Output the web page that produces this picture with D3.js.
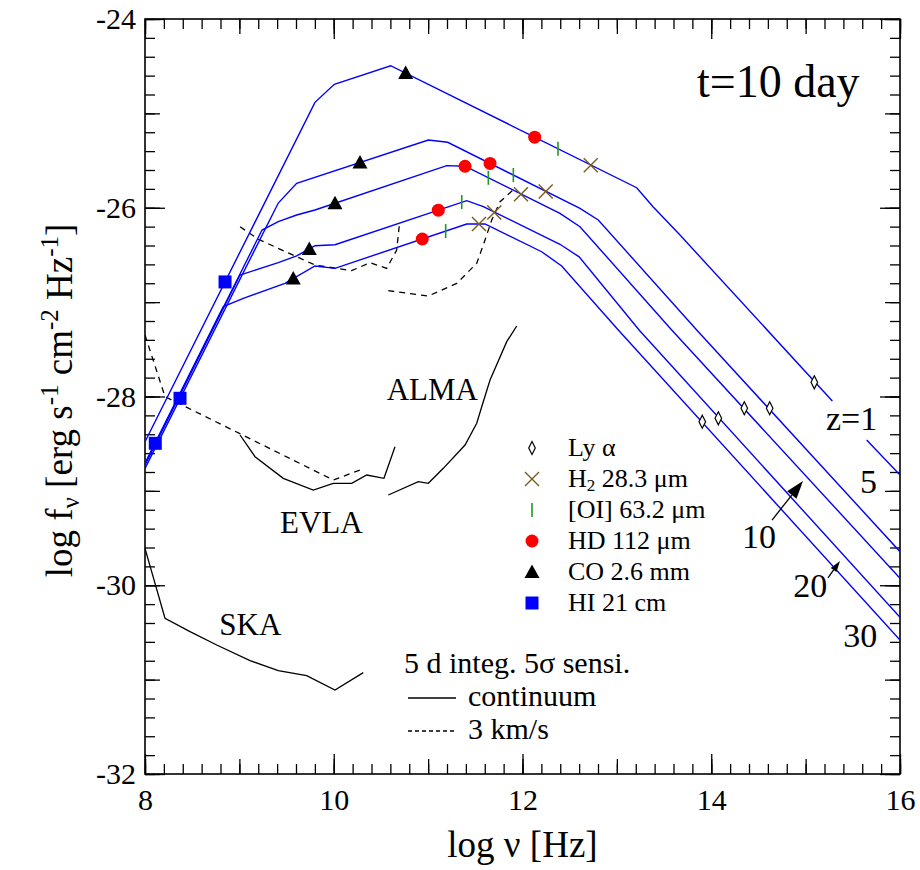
<!DOCTYPE html>
<html><head><meta charset="utf-8">
<script src="https://cdn.jsdelivr.net/npm/d3@7"></script>
<style>
body{margin:0;background:#fff}
text{font-family:"Liberation Serif","Times New Roman",serif;fill:#000}
</style>
</head><body>
<svg id="chart" width="920" height="870"></svg>
<script>
// ---------------- DATA (log nu [Hz], log f_nu) ----------------
const redshiftLabels = ["z=1","5","10","20","30"];
const sedZ1  = [[8.000,-28.479],[9.801,-24.883],[10.006,-24.692],[10.603,-24.495],[13.210,-25.788],[13.383,-25.989],[13.669,-26.289],[15.283,-28.048],null,[15.647,-28.461],[16.000,-28.832]];
const sedZ5  = [[8.000,-28.761],[9.412,-25.950],[9.607,-25.741],[11.002,-25.282],[11.207,-25.306],[12.609,-26.006],[12.803,-26.130],[13.846,-27.295],[16.000,-29.644]];
const sedZ10 = [[8.000,-28.714],[9.240,-26.236],[9.412,-26.148],[9.607,-26.077],[9.801,-26.024],[11.197,-25.554],[11.391,-25.560],[12.397,-26.059],[12.609,-26.201],[13.581,-27.295],[16.000,-29.926]];
const sedZ20 = [[8.000,-28.726],[9.007,-26.713],[9.412,-26.582],[9.607,-26.511],[9.801,-26.402],[10.013,-26.392],[11.409,-25.925],[11.585,-25.989],[12.397,-26.387],[12.600,-26.520],[13.240,-27.300],[16.000,-30.340]];
const sedZ30 = [[8.000,-28.708],[8.830,-27.048],[9.042,-26.960],[9.483,-26.801],[9.801,-26.617],[10.013,-26.642],[11.409,-26.172],[11.603,-26.172],[12.203,-26.466],[12.415,-26.617],[13.015,-27.295],[16.000,-30.580]];

// line markers (z = 1,5,10,20,30)
const lyaPts = [[15.092,-27.850],[14.619,-28.125],[14.350,-28.125],[14.075,-28.231],[13.905,-28.267]];
const h2Pts  = [[12.723,-25.550],[12.246,-25.828],[11.984,-25.856],[11.701,-26.050],[11.539,-26.172]];
const oiPts  = [[12.376,-25.376],[11.903,-25.653],[11.638,-25.683],[11.356,-25.940],[11.186,-26.247]];
const hdPts  = [[12.129,-25.252],[11.656,-25.530],[11.391,-25.560],[11.108,-26.026],[10.938,-26.331]];
const coPts  = [[10.762,-24.572],[10.278,-25.521],[10.013,-25.953],[9.741,-26.436],[9.571,-26.750]];
const hiPts  = [[8.848,-26.786],[8.371,-28.019],[8.109,-28.496]];

// sensitivities (5 d integration, 5 sigma)
const skaCont  = [[8.000,-29.609],[8.212,-30.350],[8.477,-30.492],[8.760,-30.633],[9.113,-30.799],[9.412,-30.905],[9.713,-30.958],[10.013,-31.110],[10.313,-30.926]];
const evlaCont = [[9.007,-28.408],[9.166,-28.638],[9.465,-28.867],[9.783,-28.991],[9.995,-28.920],[10.190,-28.920],[10.349,-28.832],[10.532,-28.867],[10.649,-28.532]];
const almaCont = [[10.578,-29.044],[10.896,-28.903],[11.002,-28.920],[11.161,-28.761],[11.391,-28.514],[11.515,-28.284],[11.568,-28.108],[11.656,-27.825],[11.833,-27.419],[11.939,-27.253]];
const skaLine  = [[8.000,-27.348],[8.212,-28.002],[8.371,-28.079],[9.995,-28.885],[10.278,-28.779]];
const evlaLine = [[9.007,-26.201],[9.201,-26.334],[9.801,-26.607],[10.190,-26.667],[10.384,-26.582],[10.561,-26.642],[10.667,-26.448],[10.695,-26.183]];
const almaLine = [[10.578,-26.879],[11.002,-26.935],[11.303,-26.801],[11.515,-26.589],[11.603,-26.342],[11.674,-26.130],[11.762,-25.936],[11.921,-25.794]];

const xTickLabels = [8,10,12,14,16];
const yTickLabels = [-24,-26,-28,-30,-32];
const legendLabels = ["Ly α","H2 28.3 μm","[OI] 63.2 μm","HD 112 μm","CO 2.6 mm","HI 21 cm"];

// ---------------- LAYOUT ----------------
const svg = d3.select("#chart");
const X0=145, X1=900, Y0=19, Y1=774;
const x = d3.scaleLinear().domain([8,16]).range([X0,X1]);
const y = d3.scaleLinear().domain([-32,-24]).range([Y1,Y0]);
const FONT = '"Liberation Serif","Times New Roman",serif';

const minorX = d3.range(0,41).map(i=>8+i*0.2);
const majorX = d3.range(8,17);
const minorY = d3.range(0,41).map(i=>-32+i*0.2);
const majorY = d3.range(-32,-23);

function drawAxis(gen, tr, vals, size, fmt, pad){
  const g = svg.append("g").attr("transform",tr)
    .call(gen.tickValues(vals).tickSizeInner(-size).tickSizeOuter(0).tickPadding(pad||3).tickFormat(fmt||""));
  g.select(".domain").remove();
  g.selectAll("line").attr("stroke","#000").attr("stroke-width",1.3);
  g.attr("font-family",FONT).attr("font-size",30);
  return g;
}
[[minorX,10],[majorX,15],[xTickLabels,20]].forEach(([v,s])=>{
  drawAxis(d3.axisBottom(x),`translate(0,${Y1})`,v,s);
  drawAxis(d3.axisTop(x),`translate(0,${Y0})`,v,s);
});
[[minorY,10],[majorY,15],[yTickLabels,20]].forEach(([v,s])=>{
  drawAxis(d3.axisLeft(y),`translate(${X0},0)`,v,s);
  drawAxis(d3.axisRight(y),`translate(${X1},0)`,v,s);
});
const xl = drawAxis(d3.axisBottom(x),`translate(0,${Y1})`,xTickLabels,0,d=>String(d),15);
xl.selectAll("line").remove();
xl.selectAll("text").attr("fill","#000");
const yl = drawAxis(d3.axisLeft(y),`translate(${X0},0)`,yTickLabels,0,d=>String(d),9);
yl.selectAll("line").remove();
yl.selectAll("text").attr("fill","#000");

svg.append("rect").attr("x",X0).attr("y",Y0).attr("width",X1-X0).attr("height",Y1-Y0)
  .attr("fill","none").attr("stroke","#000").attr("stroke-width",1.6);

// axis titles
svg.append("text").attr("x",(X0+X1)/2).attr("y",857).attr("text-anchor","middle")
  .attr("font-size",37).text("log ν [Hz]");
const yt = svg.append("text").attr("transform",`translate(72,${(Y0+Y1)/2+4}) rotate(-90)`)
  .attr("text-anchor","middle").attr("font-size",37);
yt.append("tspan").text("log f");
yt.append("tspan").attr("dy",7).attr("font-size",25).text("ν");
yt.append("tspan").attr("dy",-7).text(" [erg s");
yt.append("tspan").attr("dy",-14).attr("font-size",25).text("-1");
yt.append("tspan").attr("dy",14).text(" cm");
yt.append("tspan").attr("dy",-14).attr("font-size",25).text("-2");
yt.append("tspan").attr("dy",14).text(" Hz");
yt.append("tspan").attr("dy",-14).attr("font-size",25).text("-1");
yt.append("tspan").attr("dy",14).text("]");

svg.append("clipPath").attr("id","clip").append("rect")
  .attr("x",X0).attr("y",Y0).attr("width",X1-X0).attr("height",Y1-Y0);
const plot = svg.append("g").attr("clip-path","url(#clip)");

const line = d3.line().defined(d=>d!==null).x(d=>x(d[0])).y(d=>y(d[1]));

[skaCont,evlaCont,almaCont].forEach(s=>{
  plot.append("path").attr("d",line(s)).attr("fill","none").attr("stroke","#000").attr("stroke-width",1.3);
});
[skaLine,evlaLine,almaLine].forEach(s=>{
  plot.append("path").attr("d",line(s)).attr("fill","none").attr("stroke","#000").attr("stroke-width",1.3)
    .attr("stroke-dasharray","6,5");
});

[sedZ1,sedZ5,sedZ10,sedZ20,sedZ30].forEach(s=>{
  plot.append("path").attr("d",line(s)).attr("fill","none").attr("stroke","#0000ff").attr("stroke-width",1.4);
});

const shapes = {
  lya: g=>g.append("path").attr("d","M0,-6.5L3.3,0L0,6.5L-3.3,0Z").attr("fill","#fff").attr("stroke","#000").attr("stroke-width",1.2),
  h2:  g=>g.append("path").attr("d","M-7,-7L7,7M-7,7L7,-7").attr("stroke","#7b5a1c").attr("stroke-width",1.4).attr("fill","none"),
  oi:  g=>g.append("path").attr("d","M0,-7L0,7").attr("stroke","#1f9a1f").attr("stroke-width",1.6),
  hd:  g=>g.append("circle").attr("r",6.5).attr("fill","#ff0000"),
  co:  g=>g.append("path").attr("d","M0,-7.5L7.5,6L-7.5,6Z").attr("fill","#000"),
  hi:  g=>g.append("rect").attr("x",-6.5).attr("y",-6.5).attr("width",13).attr("height",13).attr("fill","#0000ff")
};
const markerSets = [["lya",lyaPts],["h2",h2Pts],["oi",oiPts],["hd",hdPts],["co",coPts],["hi",hiPts]];
markerSets.forEach(([k,pts])=>{
  pts.forEach(p=>{
    const g = svg.append("g").attr("transform",`translate(${x(p[0])},${y(p[1])})`);
    shapes[k](g);
  });
});

// legend
const legX = 532, legTop = 448, legStep = 31;
markerSets.forEach(([k],i)=>{
  const g = svg.append("g").attr("transform",`translate(${legX},${legTop+i*legStep})`);
  shapes[k](g);
  const t = svg.append("text").attr("x",568).attr("y",legTop+i*legStep+8).attr("font-size",26);
  if(k==="h2"){
    t.append("tspan").text("H");
    t.append("tspan").attr("dy",4).attr("font-size",17).text("2");
    t.append("tspan").attr("dy",-4).text(" 28.3 μm");
  } else t.text(legendLabels[i]);
});

// sensitivity legend
svg.append("text").attr("x",404).attr("y",673).attr("font-size",30).text("5 d integ. 5σ sensi.");
svg.append("line").attr("x1",408).attr("x2",456).attr("y1",698).attr("y2",698).attr("stroke","#000").attr("stroke-width",1.3);
svg.append("text").attr("x",468).attr("y",706).attr("font-size",30).text("continuum");
svg.append("line").attr("x1",408).attr("x2",456).attr("y1",731).attr("y2",731).attr("stroke","#000").attr("stroke-width",1.3).attr("stroke-dasharray","4,3");
svg.append("text").attr("x",468).attr("y",739).attr("font-size",30).text("3 km/s");

// instrument labels (data coords)
const instLabels = [["ALMA",10.561,-28.037],["EVLA",9.430,-29.449],["SKA",8.787,-30.527]];
instLabels.forEach(([t,a,b])=>svg.append("text").attr("x",x(a)).attr("y",y(b)).attr("font-size",31).text(t));

// redshift labels (data coords)
const zLabelPos = [[15.216,-28.355],[15.576,-29.026],[14.326,-29.608],[14.869,-30.121],[15.399,-30.651]];
redshiftLabels.forEach((t,i)=>svg.append("text").attr("x",x(zLabelPos[i][0])).attr("y",y(zLabelPos[i][1])).attr("font-size",34).text(t));

// arrows
const arrows = [{from:[14.644,-29.309],to:[14.972,-28.895],len:18,w:6},{from:[15.237,-29.923],to:[15.364,-29.743],len:11,w:3.5}];
arrows.forEach(a=>{
  const x1=x(a.from[0]), y1=y(a.from[1]), x2=x(a.to[0]), y2=y(a.to[1]);
  const ang = Math.atan2(y2-y1,x2-x1);
  const bx = x2-a.len*Math.cos(ang), by = y2-a.len*Math.sin(ang);
  svg.append("line").attr("x1",x1).attr("y1",y1).attr("x2",bx).attr("y2",by).attr("stroke","#000").attr("stroke-width",1.3);
  const px=-Math.sin(ang)*a.w, py=Math.cos(ang)*a.w;
  svg.append("path").attr("d",`M${x2},${y2}L${bx+px},${by+py}L${bx-px},${by-py}Z`).attr("fill","#000");
});

svg.append("text").attr("x",x(13.849)).attr("y",y(-24.826)).attr("font-size",46).text("t=10 day");
</script>
</body></html>
